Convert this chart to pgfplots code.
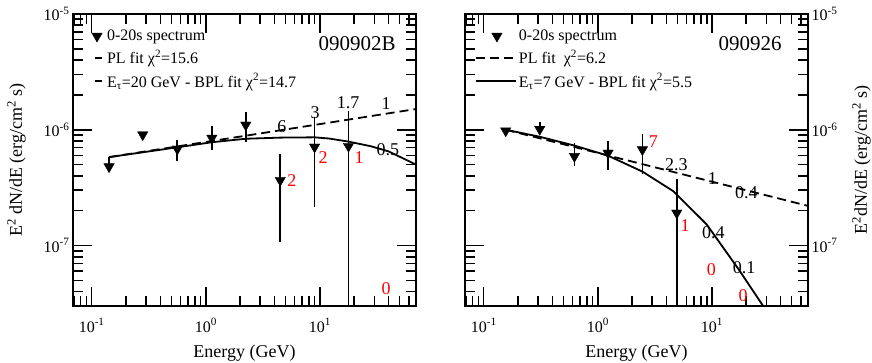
\documentclass[border=0pt]{standalone}
\usepackage{fontspec}
\setmainfont{Liberation Serif}
\usepackage{pgfplots}
\pgfplotsset{compat=1.18}

% common settings for both panels
\pgfplotsset{
  scale only axis, width=343pt, height=292pt,
  axis line style={line width=1.8pt},
  tick label style={font=\fontsize{16}{19}\selectfont},
  xticklabel style={yshift=-9pt},
  label style={font=\fontsize{18}{21}\selectfont},
  xlabel style={at={(axis description cs:0.5,-0.178)}, anchor=base},
  legend cell align=left,
  legend style={draw=none, fill=none, inner sep=0pt, outer sep=0pt,
    font=\fontsize{16}{19}\selectfont, anchor=north west, row sep=4pt},
  legmarkL/.style={legend image code/.code={%
    \pgfpathrectangle{\pgfpoint{-4pt}{-3pt}}{\pgfpoint{14pt}{6pt}}\pgfusepath{use as bounding box}%
    \draw[mark repeat=1,mark phase=1,##1] plot coordinates {(2pt,0pt)};}},
  leglineL/.style={legend image code/.code={%
    \pgfpathrectangle{\pgfpoint{-4pt}{-3pt}}{\pgfpoint{14pt}{6pt}}\pgfusepath{use as bounding box}%
    \draw[##1] (0pt,0pt) -- (7pt,0pt);}},
  legmarkR/.style={legend image code/.code={%
    \pgfpathrectangle{\pgfpoint{-1pt}{-3pt}}{\pgfpoint{42pt}{6pt}}\pgfusepath{use as bounding box}%
    \draw[mark repeat=1,mark phase=1,##1] plot coordinates {(21pt,0pt)};}},
  leglineR/.style={legend image code/.code={%
    \pgfpathrectangle{\pgfpoint{-1pt}{-3pt}}{\pgfpoint{42pt}{6pt}}\pgfusepath{use as bounding box}%
    \draw[##1] (0pt,0pt) -- (40pt,0pt);}},
}

\newcommand\ebar[3]{\addplot[black, line width=1.8pt, forget plot] coordinates {(#1,#2) (#1,#3)};}
\newcommand\ann{\fontsize{18}{21}\selectfont}

% inward ticks on all four sides (top/bottom and left/right pairs)
\newcommand\xtk[2]{\draw[black, line width=1.6pt] (axis cs:#1,3e-8) -- ++(0pt,#2);
  \draw[black, line width=1.6pt] (axis cs:#1,1e-5) -- ++(0pt,-#2);}
\newcommand\ytk[2]{\draw[black, line width=1.6pt] (axis cs:0.0686,#1) -- ++(#2,0pt);
  \draw[black, line width=1.6pt] (axis cs:69.5,#1) -- ++(-#2,0pt);}
\newcommand\allticks{%
  \xtk{0.1}{19pt}\xtk{1}{19pt}\xtk{10}{19pt}%
  \xtk{0.07}{10pt}\xtk{0.08}{10pt}\xtk{0.09}{10pt}%
  \xtk{0.2}{10pt}\xtk{0.3}{10pt}\xtk{0.4}{10pt}\xtk{0.5}{10pt}\xtk{0.6}{10pt}\xtk{0.7}{10pt}\xtk{0.8}{10pt}\xtk{0.9}{10pt}%
  \xtk{2}{10pt}\xtk{3}{10pt}\xtk{4}{10pt}\xtk{5}{10pt}\xtk{6}{10pt}\xtk{7}{10pt}\xtk{8}{10pt}\xtk{9}{10pt}%
  \xtk{20}{10pt}\xtk{30}{10pt}\xtk{40}{10pt}\xtk{50}{10pt}\xtk{60}{10pt}%
  \ytk{1e-7}{19pt}\ytk{1e-6}{19pt}\ytk{1e-5}{19pt}%
  \ytk{4e-8}{10pt}\ytk{5e-8}{10pt}\ytk{6e-8}{10pt}\ytk{7e-8}{10pt}\ytk{8e-8}{10pt}\ytk{9e-8}{10pt}%
  \ytk{2e-7}{10pt}\ytk{3e-7}{10pt}\ytk{4e-7}{10pt}\ytk{5e-7}{10pt}\ytk{6e-7}{10pt}\ytk{7e-7}{10pt}\ytk{8e-7}{10pt}\ytk{9e-7}{10pt}%
  \ytk{2e-6}{10pt}\ytk{3e-6}{10pt}\ytk{4e-6}{10pt}\ytk{5e-6}{10pt}\ytk{6e-6}{10pt}\ytk{7e-6}{10pt}\ytk{8e-6}{10pt}\ytk{9e-6}{10pt}%
}

\begin{document}
\begin{tikzpicture}
% ---------------- 090902B ----------------
\begin{axis}[
  xmode=log, ymode=log,
  xmin=0.0686, xmax=69.5, ymin=3e-8, ymax=1e-5,
  xtick={0.1,1,10},
  xticklabels={10\textsuperscript{-1},10\textsuperscript{0},10\textsuperscript{1}},
  minor xtick={0.07,0.08,0.09,0.2,0.3,0.4,0.5,0.6,0.7,0.8,0.9,2,3,4,5,6,7,8,9,20,30,40,50,60},
  ytick={1e-7,1e-6,1e-5},
  yticklabels={10\textsuperscript{-7},10\textsuperscript{-6},10\textsuperscript{-5}},
  minor ytick={4e-8,5e-8,6e-8,7e-8,8e-8,9e-8,2e-7,3e-7,4e-7,5e-7,6e-7,7e-7,8e-7,9e-7,2e-6,3e-6,4e-6,5e-6,6e-6,7e-6,8e-6,9e-6},
  tick align=inside, xtick pos=both, ytick pos=both,
  major tick length=19pt, minor tick length=10pt,
  tick style={black, line width=1.6pt},
  clip=false,
  xlabel={Energy (GeV)},
  ylabel={E\textsuperscript{2} dN/dE (erg/cm\textsuperscript{2} s)},
  ylabel style={at={(axis description cs:-0.1487,0.5)}, anchor=base},
  legend style={at={(axis description cs:0.0525,0.952)}}]
\addlegendimage{black, mark=triangle*, mark size=6pt, mark options={rotate=180}, legmarkL}
\addlegendentry{0-20s spectrum}
\addlegendimage{black, line width=1.8pt, leglineL}
\addlegendentry{PL fit χ\textsuperscript{2}=15.6}
\addlegendimage{black, line width=1.8pt, leglineL}
\addlegendentry{E\textsubscript{τ}=20 GeV - BPL fit χ\textsuperscript{2}=14.7}

\allticks

% PL fit
\addplot[black, line width=1.8pt, dash pattern=on 9pt off 5pt, forget plot] coordinates {(0.142,5.8e-7) (69.5,1.51e-6)};
% BPL fit
\addplot[black, line width=1.8pt, forget plot] coordinates {
  (0.142,5.8e-7) (0.563,7.05e-7) (1.13,7.8e-7) (2.24,8.36e-7) (4.5,8.55e-7)
  (9,8.6e-7) (12,8.4e-7) (17.8,7.9e-7) (28,7.2e-7) (40,6.5e-7) (69.5,5.0e-7)};

\ebar{0.142}{5.85e-7}{4.35e-7}
\ebar{0.563}{8.1e-7}{5.4e-7}
\ebar{1.13}{1.08e-6}{6.73e-7}
\ebar{2.24}{1.41e-6}{7.83e-7}
\ebar{4.49}{6.21e-7}{1.07e-7}
\ebar{8.98}{1.30e-6}{2.14e-7}
\ebar{17.8}{1.44e-6}{3e-8}

\addplot[black, only marks, mark=triangle*, mark size=6pt, mark options={rotate=180}, forget plot] coordinates {
  (0.142,4.8e-7) (0.28,9.06e-7) (0.563,6.82e-7) (1.13,8.48e-7) (2.24,1.10e-6)
  (4.49,3.66e-7) (8.98,7.1e-7) (17.8,7.2e-7)};

\node[font=\fontsize{21}{25}\selectfont] at (rel axis cs:0.828,0.90) {090902B};
\node[font=\ann] at (rel axis cs:0.609,0.613) {6};
\node[font=\ann] at (rel axis cs:0.706,0.661) {3};
\node[font=\ann] at (rel axis cs:0.802,0.695) {1.7};
\node[font=\ann] at (rel axis cs:0.913,0.692) {1};
\node[font=\ann] at (rel axis cs:0.918,0.534) {0.5};
\node[font=\ann, text=red] at (rel axis cs:0.638,0.428) {2};
\node[font=\ann, text=red] at (rel axis cs:0.729,0.510) {2};
\node[font=\ann, text=red] at (rel axis cs:0.834,0.507) {1};
\node[font=\ann, text=red] at (rel axis cs:0.913,0.06) {0};
\end{axis}

% ---------------- 090926 ----------------
\begin{axis}[at={(392pt,0pt)},
  xmode=log, ymode=log,
  xmin=0.0686, xmax=69.5, ymin=3e-8, ymax=1e-5,
  xtick={0.1,1,10},
  xticklabels={10\textsuperscript{-1},10\textsuperscript{0},10\textsuperscript{1}},
  minor xtick={0.07,0.08,0.09,0.2,0.3,0.4,0.5,0.6,0.7,0.8,0.9,2,3,4,5,6,7,8,9,20,30,40,50,60},
  ytick={1e-7,1e-6,1e-5},
  yticklabels={10\textsuperscript{-7},10\textsuperscript{-6},10\textsuperscript{-5}},
  minor ytick={4e-8,5e-8,6e-8,7e-8,8e-8,9e-8,2e-7,3e-7,4e-7,5e-7,6e-7,7e-7,8e-7,9e-7,2e-6,3e-6,4e-6,5e-6,6e-6,7e-6,8e-6,9e-6},
  tick align=inside, xtick pos=both, ytick pos=both,
  major tick length=19pt, minor tick length=10pt,
  tick style={black, line width=1.6pt},
  clip=false,
  xlabel={Energy (GeV)},
  yticklabel pos=right,
  ylabel={E\textsuperscript{2}dN/dE (erg/cm\textsuperscript{2} s)},
  ylabel style={at={(axis description cs:1.1715,0.5)}, anchor=base},
  legend style={at={(axis description cs:0.029,0.952)}}]
\addlegendimage{black, mark=triangle*, mark size=6pt, mark options={rotate=180}, legmarkR}
\addlegendentry{0-20s spectrum}
\addlegendimage{black, line width=1.8pt, dash pattern=on 9pt off 5pt, leglineR}
\addlegendentry{PL fit \ χ\textsuperscript{2}=6.2}
\addlegendimage{black, line width=1.8pt, leglineR}
\addlegendentry{E\textsubscript{τ}=7 GeV - BPL fit χ\textsuperscript{2}=5.5}

\allticks

\addplot[black, line width=1.8pt, dash pattern=on 9pt off 5pt, forget plot] coordinates {(0.156,1.0e-6) (69.5,2.2e-7)};
\addplot[black, line width=1.8pt, forget plot] coordinates {
  (0.156,1.0e-6) (0.31,8.7e-7) (0.624,7.3e-7) (1.23,5.97e-7) (2.46,4.35e-7)
  (4.6,2.94e-7) (9.0,1.52e-7) (17.6,6.0e-8) (28.1,3.0e-8)};

\ebar{0.156}{1.04e-6}{9.5e-7}
\ebar{0.31}{1.16e-6}{1.0e-6}
\ebar{0.624}{7.68e-7}{4.83e-7}
\ebar{1.23}{7.93e-7}{4.52e-7}
\ebar{2.46}{9.2e-7}{4.17e-7}
\ebar{4.92}{3.76e-7}{3e-8}

\addplot[black, only marks, mark=triangle*, mark size=6pt, mark options={rotate=180}, forget plot] coordinates {
  (0.156,9.8e-7) (0.31,1.01e-6) (0.624,5.89e-7) (1.23,6.3e-7) (2.46,6.73e-7) (4.92,1.91e-7)};

\node[font=\fontsize{21}{25}\selectfont] at (rel axis cs:0.831,0.90) {090926};
\node[font=\ann, text=red] at (rel axis cs:0.549,0.562) {7};
\node[font=\ann] at (rel axis cs:0.616,0.483) {2.3};
\node[font=\ann] at (rel axis cs:0.721,0.438) {1};
\node[font=\ann] at (rel axis cs:0.820,0.387) {0.4};
\node[font=\ann, text=red] at (rel axis cs:0.642,0.277) {1};
\node[font=\ann] at (rel axis cs:0.724,0.250) {0.4};
\node[font=\ann, text=red] at (rel axis cs:0.718,0.123) {0};
\node[font=\ann] at (rel axis cs:0.814,0.130) {0.1};
\node[font=\ann, text=red] at (rel axis cs:0.811,0.035) {0};
\end{axis}
\pgfresetboundingbox
\path (-73pt,-57pt) rectangle (799pt,306pt);
\end{tikzpicture}
\end{document}
